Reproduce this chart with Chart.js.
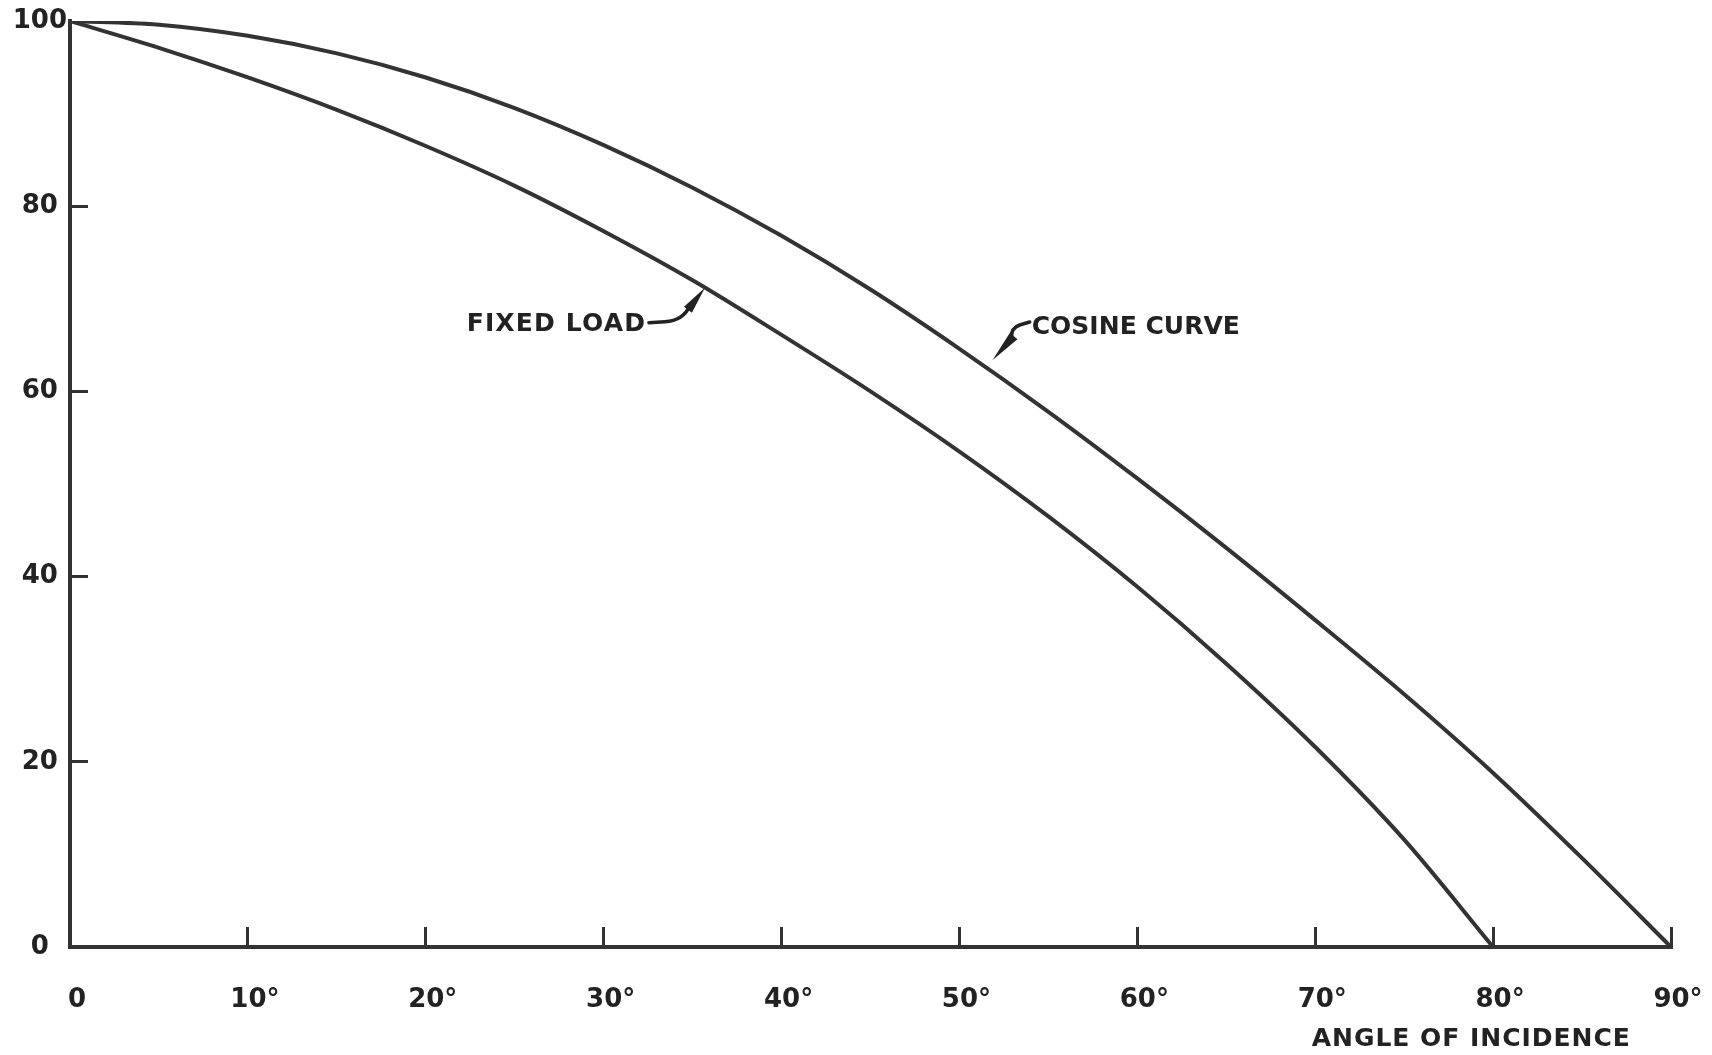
<!DOCTYPE html>
<html>
<head>
<meta charset="utf-8">
<title>Angle of incidence</title>
<script src="https://cdn.jsdelivr.net/npm/chart.js@4.4.1/dist/chart.umd.min.js"></script>
<style>
  html, body { margin: 0; padding: 0; background: #ffffff; }
  canvas { display: block; }
</style>
</head>
<body>
<canvas id="chart" width="1712" height="1055"></canvas>
<script>
// Angle of incidence, degrees
const angles = [0, 5, 10, 15, 20, 25, 30, 35, 40, 45, 50, 55, 60, 65, 70, 75, 80, 85, 90];
// Relative output following the cosine law (%)
const cosineCurve = [100, 99.6, 98.4, 96.5, 93.9, 90.6, 86.6, 82, 76.8, 71, 64.6, 57.8, 50.6, 43.1, 35.3, 27.3, 18.8, 9.6, 0];
// Relative output under a fixed load (%), 0 to 80 degrees
const fixedLoad = [100, 97.1, 93.9, 90.4, 86.5, 82.2, 77.3, 72, 66.1, 60, 53.5, 46.5, 38.9, 30.6, 21.6, 11.6, 0];

const xTickLabels = ['0', '10°', '20°', '30°', '40°', '50°', '60°', '70°', '80°', '90°'];
const yTickLabels = ['0', '20', '40', '60', '80', '100'];

const INK = '#222222';
const LINE = '#333333';
const FAMILY = '"DejaVu Sans", "Liberation Sans", sans-serif';

const toPoints = (vals) => vals.map((v, i) => ({ x: angles[i], y: v }));

// Draws text stretched between two x positions by adjusting letter spacing
function spacedText(ctx, text, x0, x1, yc) {
  ctx.letterSpacing = '0px';
  const natural = ctx.measureText(text).width;
  const extra = (x1 - x0 - natural) / Math.max(1, text.length - 1);
  ctx.letterSpacing = extra.toFixed(2) + 'px';
  ctx.textAlign = 'left';
  ctx.textBaseline = 'middle';
  ctx.fillText(text, x0, yc);
  ctx.letterSpacing = '0px';
}

function arrowHead(ctx, bx, by, tx, ty, w) {
  const dx = tx - bx, dy = ty - by;
  const len = Math.hypot(dx, dy);
  const px = -dy / len * w / 2, py = dx / len * w / 2;
  ctx.beginPath();
  ctx.moveTo(bx + px, by + py);
  ctx.lineTo(tx, ty);
  ctx.lineTo(bx - px, by - py);
  ctx.closePath();
  ctx.fill();
}

// Keep the plot area exactly where the layout padding puts it
function noScalePadding(scale) {
  scale.paddingLeft = 0;
  scale.paddingRight = 0;
  scale.paddingTop = 0;
  scale.paddingBottom = 0;
}

// Curve labels with hand-drawn style pointer arrows, plus the axis caption
const curveNotes = {
  id: 'curveNotes',
  afterDatasetsDraw(chart) {
    const { ctx, scales: { x, y } } = chart;
    ctx.save();
    ctx.fillStyle = INK;
    ctx.strokeStyle = INK;
    ctx.lineWidth = 3.5;
    ctx.lineCap = 'round';
    ctx.lineJoin = 'round';
    ctx.font = 'bold 25px ' + FAMILY;

    // FIXED LOAD
    const fx0 = x.getPixelForValue(22.3), fx1 = x.getPixelForValue(32.32);
    const fy = y.getPixelForValue(67.2);
    spacedText(ctx, 'FIXED LOAD', fx0, fx1, fy);
    ctx.beginPath();
    ctx.moveTo(fx1 + 4, fy - 2);
    ctx.lineTo(fx1 + 20, fy - 3);
    ctx.quadraticCurveTo(fx1 + 38, fy - 4, fx1 + 45, fy - 19);
    ctx.stroke();
    arrowHead(ctx, fx1 + 43, fy - 15, fx1 + 60, fy - 37, 10);

    // COSINE CURVE
    const cx0 = x.getPixelForValue(54.06), cx1 = x.getPixelForValue(65.77);
    const cy = y.getPixelForValue(66.85);
    spacedText(ctx, 'COSINE CURVE', cx0, cx1, cy);
    ctx.beginPath();
    ctx.moveTo(cx0 - 2, cy - 6);
    ctx.lineTo(cx0 - 12, cy - 3);
    ctx.quadraticCurveTo(cx0 - 21, cy, cx0 - 20, cy + 10);
    ctx.stroke();
    arrowHead(ctx, cx0 - 18, cy + 8, cx0 - 39, cy + 32, 10);

    // x-axis caption
    spacedText(ctx, 'ANGLE OF INCIDENCE',
      x.getPixelForValue(69.8), x.getPixelForValue(87.69), y.getPixelForValue(-10.04));
    ctx.restore();
  }
};

const lineStyle = {
  borderColor: LINE,
  borderWidth: 4,
  pointRadius: 0,
  fill: false,
  cubicInterpolationMode: 'monotone',
  borderCapStyle: 'round',
  borderJoinStyle: 'round'
};

new Chart(document.getElementById('chart'), {
  type: 'line',
  data: {
    datasets: [
      Object.assign({ label: 'COSINE CURVE', data: toPoints(cosineCurve) }, lineStyle),
      Object.assign({ label: 'FIXED LOAD', data: toPoints(fixedLoad) }, lineStyle)
    ]
  },
  options: {
    responsive: false,
    animation: false,
    layout: { autoPadding: false, padding: { top: 21, right: 41, bottom: 0, left: 0 } },
    plugins: {
      legend: { display: false },
      tooltip: { enabled: false }
    },
    scales: {
      x: {
        type: 'linear',
        min: 0,
        max: 90,
        afterFit(scale) { scale.height = 108; noScalePadding(scale); },
        border: { display: true, color: LINE, width: 4 },
        grid: {
          drawOnChartArea: false,
          drawTicks: true,
          tickLength: -20,
          tickWidth: 3,
          tickColor: LINE
        },
        ticks: {
          stepSize: 10,
          padding: 58,
          labelOffset: 7,
          color: INK,
          font: { family: FAMILY, size: 26, weight: 'bold' },
          callback: (v) => xTickLabels[Math.round(v / 10)]
        }
      },
      y: {
        type: 'linear',
        min: 0,
        max: 100,
        afterFit(scale) { scale.width = 70; noScalePadding(scale); },
        border: { display: true, color: LINE, width: 4 },
        grid: {
          drawOnChartArea: false,
          drawTicks: true,
          tickLength: -18,
          tickWidth: 3,
          tickColor: (c) => (c.tick && c.tick.value === 100 ? 'rgba(0,0,0,0)' : LINE)
        },
        ticks: {
          stepSize: 20,
          padding: 21,
          crossAlign: 'center',
          color: INK,
          font: { family: FAMILY, size: 26, weight: 'bold' },
          callback: (v) => yTickLabels[Math.round(v / 20)]
        }
      }
    }
  },
  plugins: [curveNotes]
});
</script>
</body>
</html>
